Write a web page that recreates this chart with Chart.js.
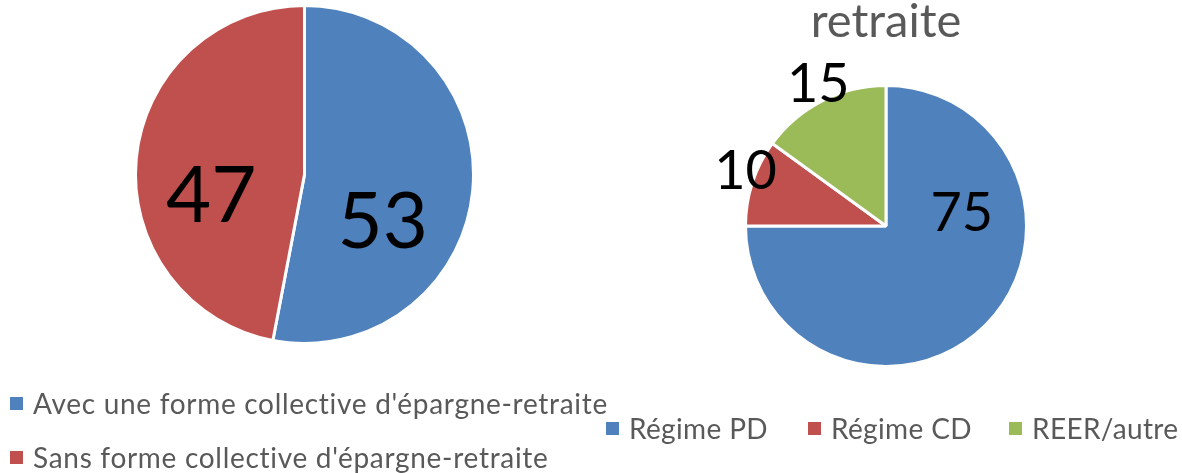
<!DOCTYPE html>
<html>
<head>
<meta charset="utf-8">
<script src="https://cdn.jsdelivr.net/npm/chart.js@4.4.1/dist/chart.umd.min.js"></script>
<style>
    body { margin: 0; background: #fff; width: 1182px; height: 473px; overflow: hidden; position: relative; font-family: Lato, 'Open Sans', sans-serif; }
    .wrap { position: absolute; top: 0; height: 473px; }
    #title { position: absolute; left: 610px; width: 552px; top: -9px; text-align: center; font-size: 47px; color: #595959; }
    .legend { position: absolute; color: #595959; white-space: nowrap; display: flex; align-items: center; }
    .legend i { display: inline-block; width: 13px; height: 13px; margin-right: 10px; }
</style>
</head>
<body>
<div class="wrap" style="left:0;width:610px"><canvas id="chartLeft"></canvas></div>
<div class="wrap" style="left:610px;width:572px"><canvas id="chartRight"></canvas></div>
<div id="title">retraite</div>
<div id="legendLeft"></div>
<div id="legendRight"></div>

<script>
// ── Data ──────────────────────────────────────────────────────────────────────
const leftLabels  = ["Avec une forme collective d'épargne-retraite", "Sans forme collective d'épargne-retraite"];
const leftValues  = [53, 47];
const rightLabels = ['Régime PD', 'Régime CD', 'REER/autre'];
const rightValues = [75, 10, 15];

const COLORS = ['#4F81BD', '#C0504D', '#9BBB59'];

// label placement, as fractions of the radius from the pie centre
const leftLabelPos  = [[0.463, 0.268], [-0.552, 0.115]];
const rightLabelPos = [[0.539, -0.106], [-1.0, -0.404], [-0.482, -1.021]];

// ── Value labels drawn on top of the arcs ────────────────────────────────────
function valueLabels(pos, size) {
    return {
        id: 'valueLabels',
        afterDatasetsDraw(chart) {
            const ctx  = chart.ctx;
            const arcs = chart.getDatasetMeta(0).data;
            ctx.save();
            ctx.font = `${size}px Lato, 'Open Sans', sans-serif`;
            ctx.fillStyle = '#000';
            ctx.textAlign = 'center';
            ctx.textBaseline = 'alphabetic';
            arcs.forEach((arc, i) => {
                const r = arc.outerRadius;
                const x = arc.x + pos[i][0] * r;
                const y = arc.y + pos[i][1] * r + size * 0.36;
                ctx.fillText(String(chart.data.datasets[0].data[i]), x, y);
            });
            ctx.restore();
        }
    };
}

function makePie(id, labels, values, padding, pos, size) {
    return new Chart(document.getElementById(id), {
        type: 'pie',
        data: {
            labels,
            datasets: [{
                data: values,
                backgroundColor: COLORS.slice(0, values.length),
                borderColor: '#fff',
                borderWidth: 3,
                hoverOffset: 0,
            }],
        },
        options: {
            responsive: true,
            maintainAspectRatio: false,
            animation: false,
            layout: { padding },
            plugins: { legend: { display: false }, tooltip: { enabled: false } },
        },
        plugins: [valueLabels(pos, size)],
    });
}

makePie('chartLeft',  leftLabels,  leftValues,  { left: 134, right: 135, top: 4,  bottom: 128 }, leftLabelPos, 78);
makePie('chartRight', rightLabels, rightValues, { left: 134, right: 154, top: 84, bottom: 105 }, rightLabelPos, 54);

// ── Legends ──────────────────────────────────────────────────────────────────
function legendItem(label, color, style) {
    const d = document.createElement('div');
    d.className = 'legend';
    Object.assign(d.style, style);
    d.innerHTML = `<i style="background:${color}"></i><span>${label}</span>`;
    return d;
}

const ll = document.getElementById('legendLeft');
leftLabels.forEach((l, i) => {
    ll.appendChild(legendItem(l, COLORS[i], { left: '10px', top: (386 + i * 54) + 'px', fontSize: '28px', letterSpacing: '0.7px' }));
});

const lr = document.getElementById('legendRight');
const rightX = [606, 808, 1009];
rightLabels.forEach((l, i) => {
    lr.appendChild(legendItem(l, COLORS[i], { left: rightX[i] + 'px', top: '411px', fontSize: '28px', letterSpacing: '0.35px' }));
});
</script>
</body>
</html>
